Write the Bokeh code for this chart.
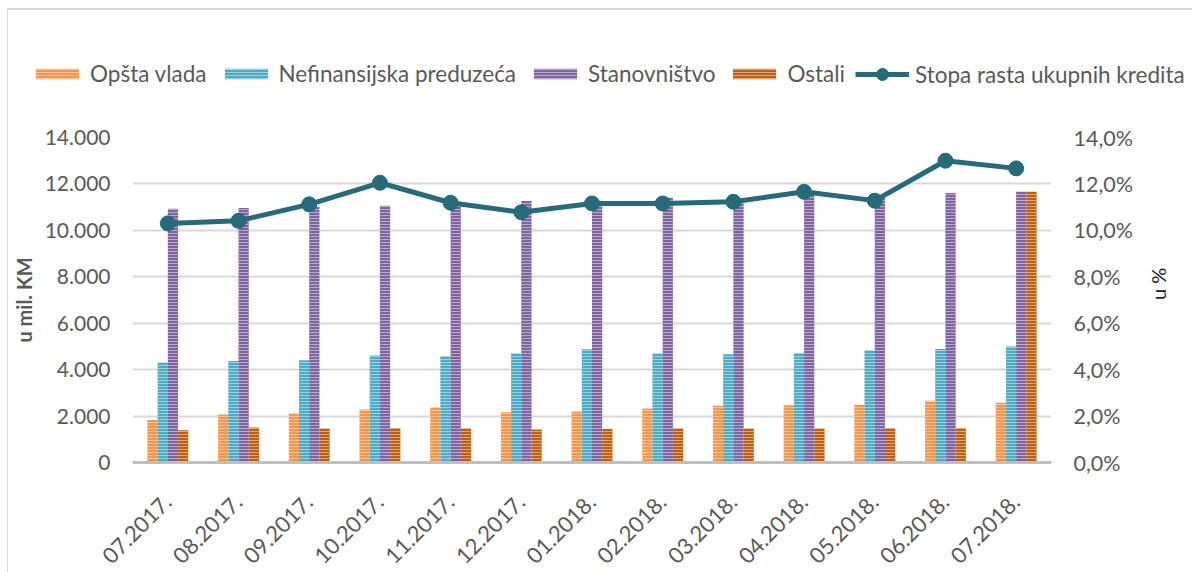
import math
from bokeh.plotting import figure
from bokeh.models import (FactorRange, Range1d, LinearAxis, CustomJSTickFormatter,
                          FixedTicker, Legend, LegendItem, ColumnDataSource)
from bokeh.transform import dodge
from bokeh.embed import file_html
from bokeh.resources import INLINE

months = ["07.2017.", "08.2017.", "09.2017.", "10.2017.", "11.2017.", "12.2017.",
          "01.2018.", "02.2018.", "03.2018.", "04.2018.", "05.2018.", "06.2018.", "07.2018."]
opsta_vlada = [1830, 2070, 2110, 2280, 2370, 2170, 2200, 2330, 2440, 2470, 2490, 2660, 2570]
nefinansijska = [4310, 4370, 4410, 4610, 4580, 4700, 4880, 4700, 4660, 4720, 4820, 4890, 5000]
stanovnistvo = [10930, 10960, 11020, 11060, 11100, 11260, 11250, 11400, 11350, 11550, 11450, 11610, 11660]
ostali = [1390, 1510, 1470, 1490, 1470, 1420, 1440, 1470, 1470, 1460, 1480, 1480, 11660]
stopa_rasta = [10.30, 10.41, 11.12, 12.05, 11.19, 10.78, 11.16, 11.16, 11.23, 11.66, 11.28, 13.00, 12.67]

series_names = ["Opšta vlada", "Nefinansijska preduzeća", "Stanovništvo", "Ostali"]
line_name = "Stopa rasta ukupnih kredita"
left_title = "u mil. KM"
right_title = "u %"
left_ticks = [0, 2000, 4000, 6000, 8000, 10000, 12000, 14000]
right_ticks = [0, 2, 4, 6, 8, 10, 12, 14]

colors = ["#F79646", "#4BACC6", "#8064A2", "#C0600F"]
line_color = "#256B7B"
text_color = "#595959"
FONT = "Lato"
hatch = dict(hatch_pattern="horizontal_line", hatch_color="white",
             hatch_alpha=0.45, hatch_scale=3, hatch_weight=1)

src = ColumnDataSource(dict(month=months, v0=opsta_vlada, v1=nefinansijska,
                            v2=stanovnistvo, v3=ostali, rate=stopa_rasta))

# ---------------- main chart ----------------
p = figure(x_range=FactorRange(*months), y_range=Range1d(0, 14000),
           frame_width=919, frame_height=325,
           min_border_left=124, min_border_right=140, min_border_top=29, min_border_bottom=99,
           output_backend="svg", toolbar_location=None)
p.extra_y_ranges = {"pct": Range1d(0, 14)}
p.outline_line_color = None
p.background_fill_color = "white"
p.border_fill_color = "white"
p.styles = {"margin-left": "7px", "border-left": "1px solid #D9D9D9"}

w = 0.1445
offsets = [-1.5 * w, -0.5 * w, 0.5 * w, 1.5 * w]
for i, (name, col) in enumerate(zip(series_names, colors)):
    p.vbar(x=dodge("month", offsets[i], range=p.x_range), top="v%d" % i, width=w,
           source=src, fill_color=col, line_color=None, **hatch)

p.line(x="month", y="rate", source=src, y_range_name="pct",
       line_color=line_color, line_width=5)
p.scatter(x="month", y="rate", source=src, y_range_name="pct",
          size=15, fill_color=line_color, line_color=line_color)

def style_axis(ax, size, standoff):
    ax.axis_line_color = None
    ax.major_tick_line_color = None
    ax.minor_tick_line_color = None
    ax.major_tick_out = 0
    ax.major_tick_in = 0
    ax.minor_tick_out = 0
    ax.major_label_text_font = FONT
    ax.major_label_text_font_size = size
    ax.major_label_text_color = text_color
    ax.major_label_standoff = standoff

# left axis
p.yaxis.ticker = FixedTicker(ticks=left_ticks)
p.yaxis.formatter = CustomJSTickFormatter(
    code='return tick.toFixed(0).replace(/\\B(?=(\\d{3})+(?!\\d))/g, ".");')
style_axis(p.yaxis[0], "21px", 22)
p.yaxis.axis_label = left_title
p.yaxis.axis_label_text_font = FONT
p.yaxis.axis_label_text_font_style = "bold"
p.yaxis.axis_label_text_font_size = "20px"
p.yaxis.axis_label_text_color = text_color
p.yaxis.axis_label_standoff = 6

# right axis
ra = LinearAxis(y_range_name="pct", ticker=FixedTicker(ticks=right_ticks),
                formatter=CustomJSTickFormatter(code='return tick.toFixed(1).replace(".", ",") + "%";'))
style_axis(ra, "21.5px", 22)
ra.axis_label = right_title
ra.axis_label_text_font = FONT
ra.axis_label_text_font_style = "normal"
ra.axis_label_text_font_size = "20px"
ra.axis_label_text_color = "#222222"
ra.axis_label_standoff = 22
try:
    ra.axis_label_orientation = math.pi / 2
except Exception:
    pass
p.add_layout(ra, "right")

# bottom axis
style_axis(p.xaxis[0], "22px", 36)
p.xaxis.axis_line_color = "#BFBFBF"
p.xaxis.axis_line_width = 3
p.xaxis.major_label_orientation = math.pi / 4

p.xgrid.grid_line_color = None
p.ygrid.grid_line_color = "#D9D9D9"
p.ygrid.grid_line_width = 2
p.ygrid.ticker = FixedTicker(ticks=left_ticks)

# ---------------- legend strip (top, separate root) ----------------
lg = figure(width=1185, height=100, x_range=Range1d(0, 1), y_range=Range1d(0, 1),
            x_axis_type=None, y_axis_type=None, min_border=0,
            output_backend="svg", toolbar_location=None)
lg.outline_line_color = None
lg.xgrid.visible = False
lg.ygrid.visible = False
lg.styles = {"margin-left": "7px", "margin-top": "8px",
             "border-left": "1px solid #D9D9D9", "border-top": "2px solid #D9D9D9"}
proxy = ColumnDataSource(dict(x=[-1.0], y=[-1.0]))
proxies = []
for col in colors:
    proxies.append(lg.vbar(x="x", top="y", bottom="y", width=0.1, source=proxy,
                           fill_color=col, line_color=None, **hatch))
pl = lg.line(x="x", y="y", source=proxy, line_color=line_color, line_width=5)
ps = lg.scatter(x="x", y="y", source=proxy, size=15, fill_color=line_color, line_color=line_color)

common = dict(orientation="horizontal", background_fill_alpha=0, border_line_color=None,
              label_text_font=FONT, label_text_font_size="22.5px", label_text_color=text_color,
              label_standoff=6, spacing=12, padding=0, margin=0)
bar_items = [LegendItem(label=n, renderers=[r]) for n, r in zip(series_names, proxies)]
legend1 = Legend(items=bar_items, location=(22, 23), glyph_width=54, glyph_height=13, **common)
legend2 = Legend(items=[LegendItem(label=line_name, renderers=[pl, ps])], location=(847, 21),
                 glyph_width=54, glyph_height=30, **common)
lg.add_layout(legend1, "center")
lg.add_layout(legend2, "center")

open("out.html", "w").write(file_html([lg, p], INLINE))
